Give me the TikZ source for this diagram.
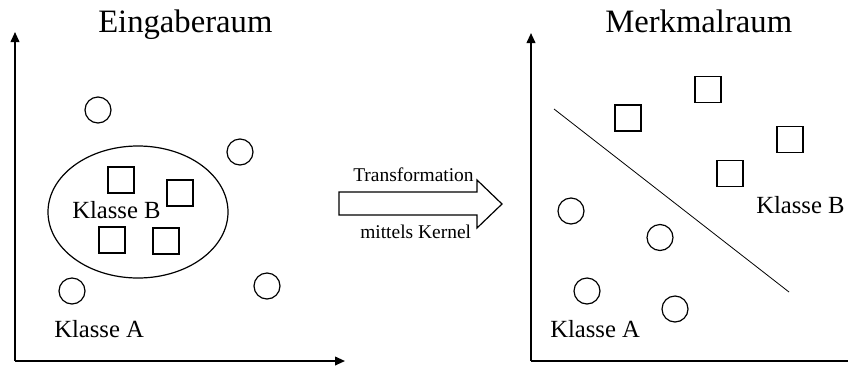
\documentclass[tikz,border=0pt]{standalone}
\usepackage{fontspec}
\setmainfont{Liberation Serif}
\usetikzlibrary{arrows.meta}

\begin{document}
\begin{tikzpicture}[
    x=0.75pt, y=-0.75pt,
    axis/.style={line width=1.3pt, -{Triangle[length=7.5pt, width=6.5pt]}},
    punkt/.style={draw, circle, line width=0.9pt, minimum size=19.5pt, inner sep=0pt},
    kasten/.style={draw, rectangle, line width=0.9pt, minimum size=19.5pt, inner sep=0pt},
    titel/.style={font=\fontsize{24.5}{28}\selectfont, anchor=base west, inner sep=0pt},
    klasse/.style={font=\fontsize{18.5}{22}\selectfont, anchor=base west, inner sep=0pt},
    beschr/.style={font=\fontsize{14.6}{17}\selectfont, anchor=base west, inner sep=0pt}
]
\useasboundingbox (0,0) rectangle (848,365);

% Eingaberaum
\coordinate (ursprungL) at (15,361);
\coordinate (yendeL) at (15,32);
\coordinate (xendeL) at (345,361);
\draw[axis] (ursprungL) -- (yendeL);
\draw[axis] (ursprungL) -- (xendeL);
\node[titel] (eingabe) at (98,32.5) {Eingaberaum};

\draw[line width=0.9pt] (138,212) ellipse [x radius=90, y radius=66];
\node[kasten] (b1) at (121,180) {};
\node[kasten] (b2) at (180,193) {};
\node[kasten] (b3) at (112,240) {};
\node[kasten] (b4) at (166,241) {};
\node[klasse] (klBL) at (72,218) {Klasse B};

\node[punkt] (a1) at (98,110) {};
\node[punkt] (a2) at (240,152) {};
\node[punkt] (a3) at (72,291) {};
\node[punkt] (a4) at (267,286) {};
\node[klasse] (klAL) at (54,337) {Klasse A};

% Transformation
\draw[line width=0.9pt] (339,192) -- (477,192) -- (477,180) -- (502,204)
    -- (477,228) -- (477,215) -- (339,215) -- cycle;
\node[beschr] (trafo) at (353,181) {Transformation};
\node[beschr] (kernel) at (360,238) {mittels Kernel};

% Merkmalraum
\coordinate (ursprungR) at (531,361);
\coordinate (yendeR) at (531,33);
\coordinate (xendeR) at (848,361);
\draw[axis] (ursprungR) -- (yendeR);
\draw[line width=1.3pt] (ursprungR) -- (xendeR);
\node[titel] (merkmal) at (605,32.5) {Merkmalraum};

\coordinate (trennA) at (554,109);
\coordinate (trennB) at (789,292);
\draw[line width=0.6pt] (trennA) -- (trennB);

\node[kasten] (m1) at (628,118) {};
\node[kasten] (m2) at (708,89.5) {};
\node[kasten] (m3) at (790,139.5) {};
\node[kasten] (m4) at (730,173.5) {};
\node[klasse] (klBR) at (756,213) {Klasse B};

\node[punkt] (n1) at (571,211) {};
\node[punkt] (n2) at (660,237.5) {};
\node[punkt] (n3) at (587,291) {};
\node[punkt] (n4) at (675,309) {};
\node[klasse] (klAR) at (550,337) {Klasse A};
\end{tikzpicture}
\end{document}
